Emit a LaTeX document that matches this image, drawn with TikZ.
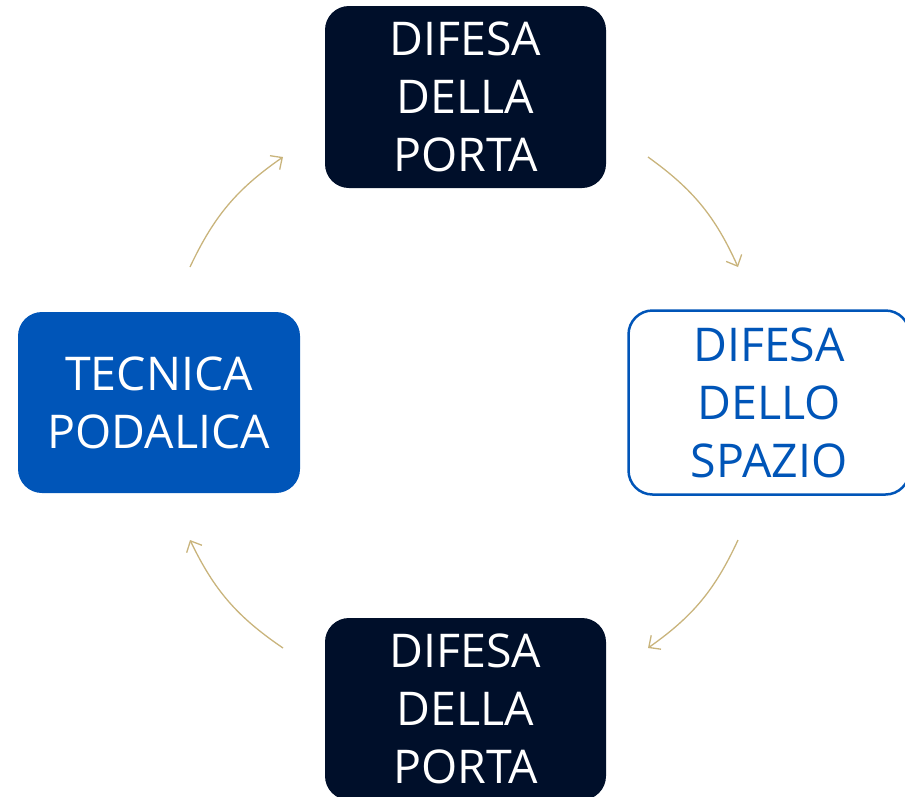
\documentclass[tikz,border=0pt]{standalone}
\usepackage{fontspec}
\setmainfont{Open Sans}
\usetikzlibrary{arrows.meta}
\definecolor{navy}{HTML}{000F2A}
\definecolor{royal}{HTML}{0055B8}
\definecolor{gold}{HTML}{C9B47C}
\tikzset{
  box/.style={rounded corners=24pt, minimum width=281pt, minimum height=182pt, align=center,
    font=\fontsize{46.5}{58}\selectfont, inner sep=0pt},
  darkbox/.style={box, fill=navy, text=white},
  bluebox/.style={box, fill=royal, text=white},
  outlinebox/.style={box, draw=royal, line width=2.5pt, fill=white, text=royal, minimum height=184pt},
  flow/.style={draw=gold, line width=1.3pt, -{Straight Barb[length=9pt,width=17pt,line width=1.3pt]}}
}
\begin{document}
\begin{tikzpicture}[x=1pt,y=-1pt]
\path[use as bounding box] (0,0) rectangle (905,796);
\clip (0,0) rectangle (905,796);
\node[darkbox] (top) at (465.5,97) {DIFESA\\DELLA\\PORTA};
\node[outlinebox] (right) at (769,402.5) {DIFESA\\DELLO\\SPAZIO};
\node[darkbox] (bottom) at (465.5,709) {DIFESA\\DELLA\\PORTA};
\node[bluebox, minimum width=282pt, minimum height=181pt] (left) at (159,402.5) {TECNICA\\PODALICA};
\coordinate (a1) at (190,267);
\coordinate (a2) at (283,157);
\coordinate (b1) at (648,157);
\coordinate (b2) at (738,267);
\coordinate (c1) at (738,540);
\coordinate (c2) at (648,648);
\coordinate (d1) at (283,648);
\coordinate (d2) at (190,540);
\draw[flow] (a1) to[bend left=15] (a2);
\draw[flow] (b1) to[bend left=15] (b2);
\draw[flow] (c1) to[bend left=15] (c2);
\draw[flow] (d1) to[bend left=15] (d2);
\end{tikzpicture}
\end{document}
